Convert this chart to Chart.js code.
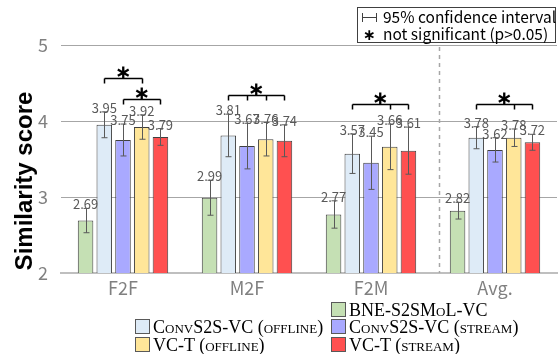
<!DOCTYPE html>
<html>
<head>
<meta charset="utf-8">
<script src="https://cdn.jsdelivr.net/npm/chart.js@4"></script>
<style>
  html, body { margin: 0; padding: 0; background: #fff; }
  #wrap { position: relative; width: 559px; height: 354px; }
  #chart { position: absolute; left: 0; top: 0; }
  .note {
    position: absolute; left: 357px; top: 7px; width: 197px; height: 34px;
    border: 1px solid #404040; font-family: "Noto Sans CJK JP", "Noto Sans", sans-serif;
    font-size: 15.5px; line-height: 17px; color: #000; background: #fff;
  }
  .note div { position: absolute; left: 4px; white-space: nowrap; }
  .ci { display: inline-block; position: relative; width: 15px; height: 9px; margin-right: 6px; top: -1px; }
  .ci span { position: absolute; left: 0; right: 0; top: 4px; border-top: 1px solid #404040; }
  .ci::before, .ci::after { content: ""; position: absolute; top: 0; height: 9px; border-left: 1px solid #404040; }
  .ci::before { left: 0; } .ci::after { right: 0; }
  .leg { position: absolute; font-family: "Liberation Serif", "DejaVu Serif", serif; font-size: 18px;
    font-variant: small-caps; white-space: nowrap; color: #000; line-height: 18px; }
  .leg i { display: inline-block; width: 13px; height: 13px; border: 1px solid #595959; vertical-align: -1px; margin-right: 3px; }
</style>
</head>
<body>
<div id="wrap">
  <canvas id="chart" width="559" height="354"></canvas>
  <div class="note">
    <div style="top:0px"><span class="ci"><span></span></span>95% confidence interval</div>
    <div style="top:17px"><b style="display:inline-block;width:15px;margin-right:6px;text-align:center;font-family:'DejaVu Sans'">∗</b>not significant (p&gt;0.05)</div>
  </div>
</div>
<script>
var categories = ['F2F', 'M2F', 'F2M', 'Avg.'];
var seriesNames = ['BNE-S2SMoL-VC', 'ConvS2S-VC (offline)', 'ConvS2S-VC (stream)', 'VC-T (offline)', 'VC-T (stream)'];
var seriesColors = ['#c5e0b4', '#deebf7', '#a9a9ff', '#ffe699', '#ff5050'];

var bne = [2.69, 2.99, 2.77, 2.82];
var convOffline = [3.95, 3.81, 3.57, 3.78];
var convStream = [3.75, 3.67, 3.45, 3.62];
var vctOffline = [3.92, 3.76, 3.66, 3.78];
var vctStream = [3.79, 3.74, 3.61, 3.72];

// half width of the 95% confidence interval
var bneErr = [0.16, 0.23, 0.18, 0.11];
var convOfflineErr = [0.17, 0.28, 0.26, 0.145];
var convStreamErr = [0.21, 0.30, 0.35, 0.16];
var vctOfflineErr = [0.16, 0.22, 0.30, 0.115];
var vctStreamErr = [0.11, 0.21, 0.31, 0.105];

// "not significant" brackets: category, bars joined, level on y axis
var bracketCats = [0, 0, 1, 2, 3];
var bracketBars = [[1, 3], [2, 4], [1, 2, 3, 4], [1, 3, 4], [1, 3, 4]];
var bracketLevels = [4.565, 4.29, 4.34, 4.225, 4.225];

var yTicks = [2, 3, 4, 5];

var values = [bne, convOffline, convStream, vctOffline, vctStream];
var errors = [bneErr, convOfflineErr, convStreamErr, vctOfflineErr, vctStreamErr];

// legend placement (column, row) for each series
var legendSpots = [[1, 0], [0, 1], [1, 1], [0, 2], [1, 2]];
var legendCols = [135, 331];
var legendRows = [301, 318, 336];

legendSpots.forEach(function (s, i) {
    var el = document.createElement('div');
    el.className = 'leg';
    el.style.left = legendCols[s[0]] + 'px';
    el.style.top = legendRows[s[1]] + 'px';
    el.innerHTML = '<i style="background:' + seriesColors[i] + '"></i>' + seriesNames[i];
    document.getElementById('wrap').appendChild(el);
});

var sansFont = '"Noto Sans CJK JP", "Noto Sans", sans-serif';

var overlay = {
    id: 'overlay',
    afterDatasetsDraw: function (chart) {
        var ctx = chart.ctx;
        var ys = chart.scales.y, xs = chart.scales.x;
        var area = chart.chartArea;
        ctx.save();

        // dashed separator before the average group
        ctx.strokeStyle = '#a6a6a6';
        ctx.lineWidth = 1.5;
        ctx.setLineDash([4, 4]);
        var sx = Math.round(xs.getPixelForValue(2.55)) + 0.5;
        ctx.beginPath();
        ctx.moveTo(sx, area.top + 2);
        ctx.lineTo(sx, area.bottom);
        ctx.stroke();
        ctx.setLineDash([]);

        // error bars and value labels
        values.forEach(function (vals, i) {
            var meta = chart.getDatasetMeta(i);
            meta.data.forEach(function (bar, j) {
                var x = Math.round(bar.x) + 0.5;
                var top = ys.getPixelForValue(vals[j] + errors[i][j]);
                var bot = ys.getPixelForValue(vals[j] - errors[i][j]);
                ctx.strokeStyle = '#595959';
                ctx.lineWidth = 1;
                ctx.beginPath();
                ctx.moveTo(x, top); ctx.lineTo(x, bot);
                ctx.moveTo(x - 3, top); ctx.lineTo(x + 3, top);
                ctx.moveTo(x - 3, bot); ctx.lineTo(x + 3, bot);
                ctx.stroke();
                ctx.fillStyle = '#595959';
                ctx.font = '13px ' + sansFont;
                ctx.textAlign = 'center';
                ctx.textBaseline = 'alphabetic';
                ctx.fillText(vals[j].toFixed(2), bar.x, top + 1);
            });
        });

        // significance brackets
        bracketCats.forEach(function (c, k) {
            var bars = bracketBars[k];
            var y = Math.round(ys.getPixelForValue(bracketLevels[k])) + 0.5;
            var xsb = bars.map(function (b) { return Math.round(chart.getDatasetMeta(b).data[c].x) + 0.5; });
            ctx.strokeStyle = '#000';
            ctx.lineWidth = 1.5;
            ctx.beginPath();
            ctx.moveTo(xsb[0], y); ctx.lineTo(xsb[xsb.length - 1], y);
            xsb.forEach(function (x) { ctx.moveTo(x, y); ctx.lineTo(x, y + 5); });
            ctx.stroke();
            ctx.fillStyle = '#000';
            ctx.font = 'bold 20px "DejaVu Sans"';
            ctx.textAlign = 'center';
            ctx.textBaseline = 'middle';
            ctx.fillText('∗', (xsb[0] + xsb[xsb.length - 1]) / 2, y - 5);
        });

        // y axis title
        ctx.translate(32, 181);
        ctx.rotate(-Math.PI / 2);
        ctx.fillStyle = '#000';
        ctx.font = 'bold 24px "Liberation Sans", Arial, sans-serif';
        ctx.textAlign = 'center';
        ctx.textBaseline = 'alphabetic';
        ctx.fillText('Similarity score', 0, 0);
        ctx.restore();
    }
};

new Chart(document.getElementById('chart'), {
    type: 'bar',
    data: {
        labels: categories,
        datasets: values.map(function (v, i) {
            return {
                label: seriesNames[i],
                data: v,
                backgroundColor: seriesColors[i],
                borderColor: '#404040',
                borderWidth: 1,
                categoryPercentage: 0.755,
                barPercentage: 0.83
            };
        })
    },
    options: {
        responsive: false,
        animation: false,
        events: [],
        layout: { padding: { left: 0, right: 2, top: 45, bottom: 51 } },
        plugins: { legend: { display: false }, tooltip: { enabled: false } },
        scales: {
            x: {
                grid: { display: false, drawTicks: false },
                border: { display: true, color: '#bfbfbf', width: 2 },
                ticks: { color: '#808080', font: { family: sansFont, size: 18 }, padding: 4 },
                afterFit: function (s) { s.height = 30; }
            },
            y: {
                min: 2, max: 5,
                afterBuildTicks: function (s) { s.ticks = yTicks.map(function (v) { return { value: v }; }); },
                grid: {
                    drawTicks: false,
                    color: function (c) { return c.tick && c.tick.value === 2 ? 'rgba(0,0,0,0)' : '#a6a6a6'; },
                    lineWidth: 1
                },
                border: { display: false },
                ticks: { color: '#808080', font: { family: sansFont, size: 18 }, padding: 13 },
                afterFit: function (s) { s.width = 61; }
            }
        }
    },
    plugins: [overlay]
});
</script>
</body>
</html>
